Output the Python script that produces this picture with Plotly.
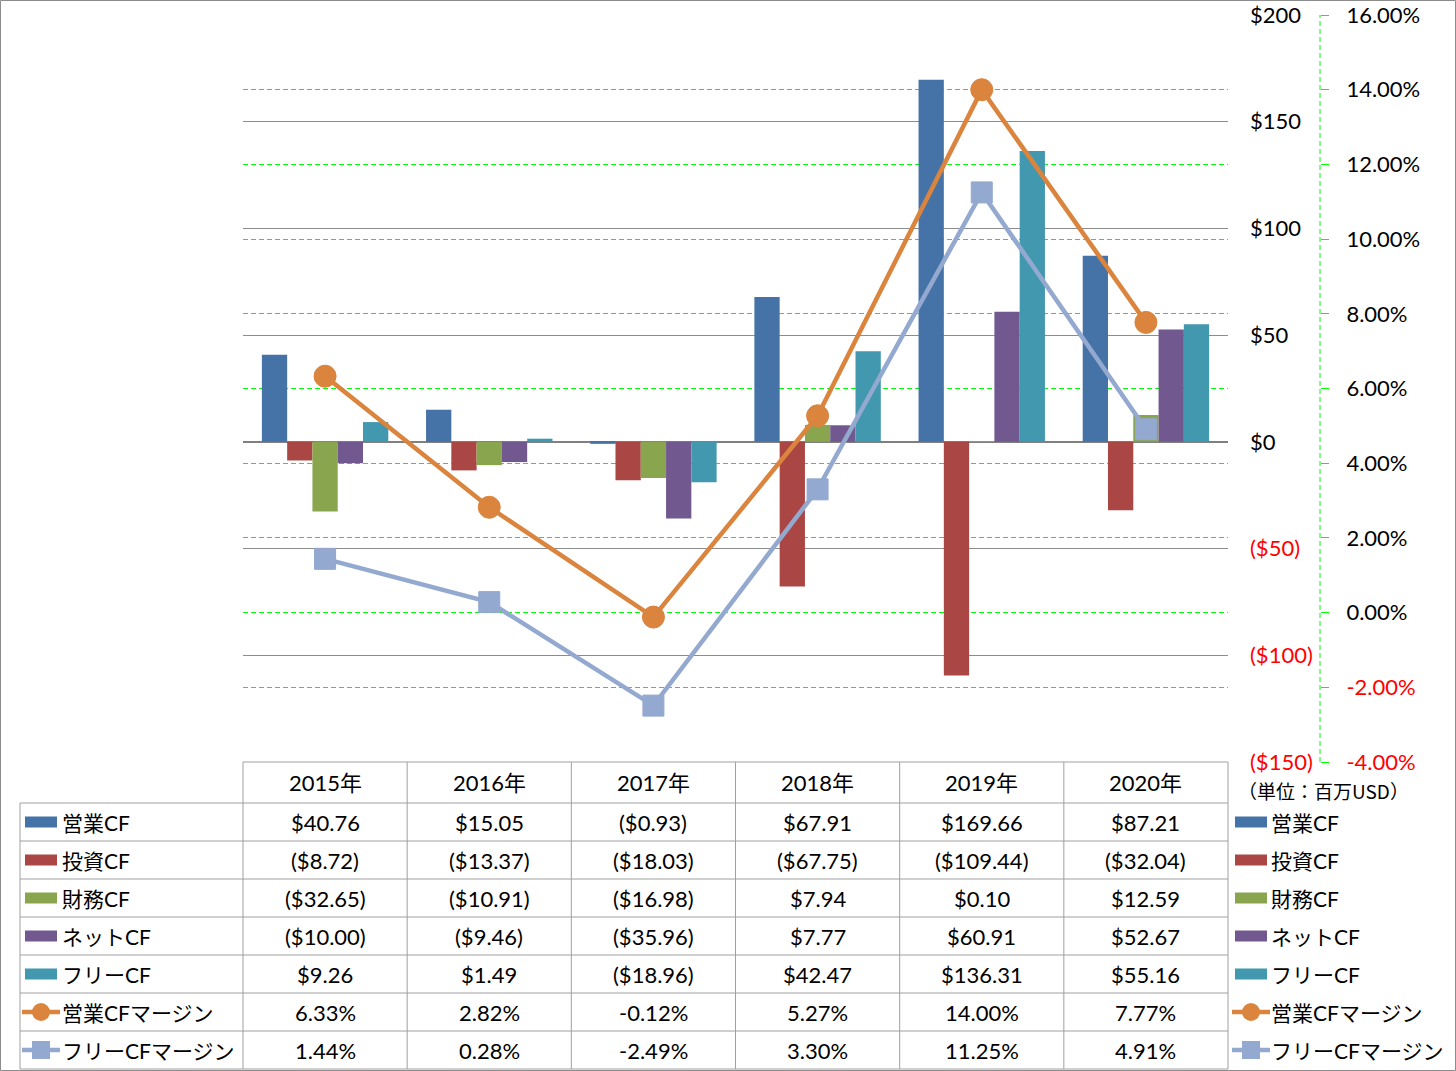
import plotly.graph_objects as go

# ---------------- data ----------------
years = ["2015年", "2016年", "2017年", "2018年", "2019年", "2020年"]
op_cf = [40.76, 15.05, -0.93, 67.91, 169.66, 87.21]
inv_cf = [-8.72, -13.37, -18.03, -67.75, -109.44, -32.04]
fin_cf = [-32.65, -10.91, -16.98, 7.94, 0.10, 12.59]
net_cf = [-10.00, -9.46, -35.96, 7.77, 60.91, 52.67]
free_cf = [9.26, 1.49, -18.96, 42.47, 136.31, 55.16]
op_margin = [6.33, 2.82, -0.12, 5.27, 14.00, 7.77]
free_margin = [1.44, 0.28, -2.49, 3.30, 11.25, 4.91]

bar_names = ["営業CF", "投資CF", "財務CF", "ネットCF", "フリーCF"]
line_names = ["営業CFマージン", "フリーCFマージン"]
usd_ticks = [-150, -100, -50, 0, 50, 100, 150, 200]
pct_ticks = [-4, -2, 0, 2, 4, 6, 8, 10, 12, 14, 16]
unit_label = "（単位：百万USD）"

# ---------------- styles ----------------
bar_colors = ["#4572A7", "#AA4643", "#89A54E", "#71588F", "#4198AF"]
line_colors = ["#DB843D", "#93A9CF"]
FONT = "Lato, 'Noto Sans CJK JP', sans-serif"
RED = "#FF0000"
GRID = "#8C8C8C"
GREEN = "#00FF00"
TBL = "#A0A0A0"

W, H = 1456, 1071
ML, MR, MT, MB = 243, 136, 15, 309
PLOT_R = 1228


def PX(px):
    return (px - ML) / (W - ML - MR)


def PY(py):
    return (H - MB - py) / (H - MT - MB)


def money(v):
    return f"(${abs(v):,.2f})" if v < 0 else f"${v:,.2f}"


def money_tick(v):
    return f"<span style='color:{RED}'>(${abs(v)})</span>" if v < 0 else f"${v}"


def pct_tick(v):
    s = f"{v:.2f}%"
    return f"<span style='color:{RED}'>{s}</span>" if v < 0 else s


fig = go.Figure()
bar_series = [op_cf, inv_cf, fin_cf, net_cf, free_cf]
for name, vals, col in zip(bar_names, bar_series, bar_colors):
    fig.add_trace(go.Bar(x=years, y=vals, name=name, marker=dict(color=col, line=dict(width=0)),
                         yaxis="y"))

line_series = [op_margin, free_margin]
symbols = ["circle", "square"]
msizes = [22, 21]
for name, vals, col, sym, ms in zip(line_names, line_series, line_colors, symbols, msizes):
    fig.add_trace(go.Scatter(x=years, y=vals, name=name, yaxis="y2", mode="lines+markers",
                             line=dict(color=col, width=4.5),
                             marker=dict(symbol=sym, size=ms, color=col,
                                         line=dict(color=col, width=1))))

shapes = []
annotations = []

# vertical dashed secondary axis line
shapes.append(dict(type="line", xref="paper", yref="paper", x0=1, x1=1, y0=0, y1=1,
                   line=dict(color=GREEN, width=1, dash="5px,3px")))

# ---------------- table ----------------
header_top, header_bot = 762, 803
row_h = 38
n_rows = 7
row_tops = [header_bot + i * row_h for i in range(n_rows + 1)]
table_bottom = row_tops[-1]
col_edges = [ML + i * (PLOT_R - ML) / 6 for i in range(7)]

# horizontal lines
shapes.append(dict(type="line", xref="paper", yref="paper", x0=PX(ML), x1=PX(PLOT_R),
                   y0=PY(header_top), y1=PY(header_top), line=dict(color=TBL, width=1)))
for yt in row_tops:
    shapes.append(dict(type="line", xref="paper", yref="paper", x0=PX(20), x1=PX(PLOT_R),
                       y0=PY(yt), y1=PY(yt), line=dict(color=TBL, width=1)))
# vertical lines
for xe in col_edges:
    shapes.append(dict(type="line", xref="paper", yref="paper", x0=PX(xe), x1=PX(xe),
                       y0=PY(header_top), y1=PY(table_bottom), line=dict(color=TBL, width=1)))
shapes.append(dict(type="line", xref="paper", yref="paper", x0=PX(20), x1=PX(20),
                   y0=PY(header_bot), y1=PY(table_bottom), line=dict(color=TBL, width=1)))

# header years
for yr in years:
    annotations.append(dict(x=yr, y=PY((header_top + header_bot) / 2), xref="x", yref="paper",
                            text=yr, showarrow=False, font=dict(size=22, family=FONT, color="black"),
                            xanchor="center", yanchor="middle"))

all_rows = [(n, v, "bar") for n, v in zip(bar_names, bar_series)] + \
           [(n, v, "line") for n, v in zip(line_names, line_series)]
all_cols = bar_colors + line_colors

for i, (name, vals, kind) in enumerate(all_rows):
    yc = row_tops[i] + row_h / 2
    for yr, v in zip(years, vals):
        txt = money(v) if kind == "bar" else f"{v:.2f}%"
        annotations.append(dict(x=yr, y=PY(yc), xref="x", yref="paper", text=txt, showarrow=False,
                                font=dict(size=22, family=FONT, color="black"),
                                xanchor="center", yanchor="middle"))
    col = all_cols[i]
    for (sx0, tx) in [(25, 60), (1235, 1269)]:
        if kind == "bar":
            shapes.append(dict(type="rect", xref="paper", yref="paper",
                               x0=PX(sx0), x1=PX(sx0 + 32), y0=PY(yc - 5.5), y1=PY(yc + 5.5),
                               fillcolor=col, line=dict(width=0)))
        else:
            shapes.append(dict(type="line", xref="paper", yref="paper",
                               x0=PX(sx0 - 3), x1=PX(sx0 + 35), y0=PY(yc), y1=PY(yc),
                               line=dict(color=col, width=4.5)))
            cx = sx0 + 16
            if i == 5:
                shapes.append(dict(type="circle", xref="paper", yref="paper",
                                   x0=PX(cx - 9), x1=PX(cx + 9), y0=PY(yc - 9), y1=PY(yc + 9),
                                   fillcolor=col, line=dict(width=0)))
            else:
                shapes.append(dict(type="rect", xref="paper", yref="paper",
                                   x0=PX(cx - 9), x1=PX(cx + 9), y0=PY(yc - 9), y1=PY(yc + 9),
                                   fillcolor=col, line=dict(width=0)))
        annotations.append(dict(x=PX(tx), y=PY(yc), xref="paper", yref="paper", text=name,
                                showarrow=False, font=dict(size=21, family=FONT, color="black"),
                                xanchor="left", yanchor="middle"))

# unit label
annotations.append(dict(x=PX(1323), y=PY(790), xref="paper", yref="paper", text=unit_label,
                        showarrow=False, font=dict(size=19, family="'Noto Sans CJK JP'", color="black"),
                        xanchor="center", yanchor="middle"))

# outer frame
shapes.append(dict(type="rect", xref="paper", yref="paper", x0=PX(0.5), x1=PX(W - 0.5),
                   y0=PY(0.5), y1=PY(H - 0.5), line=dict(color=GRID, width=1)))

fig.update_layout(
    width=W, height=H, template="none",
    margin=dict(l=ML, r=MR, t=MT, b=MB, autoexpand=False),
    paper_bgcolor="white", plot_bgcolor="white",
    showlegend=False, barmode="group", bargap=0.23, bargroupgap=0,
    font=dict(family=FONT, size=22, color="black"),
    xaxis=dict(domain=[0, (PLOT_R - ML) / (W - ML - MR)], type="category", range=[-0.5, 5.5],
               showticklabels=False, showgrid=False, zeroline=False, showline=False, ticks="",
               automargin=False),
    yaxis=dict(range=[-150, 200], side="right", tickvals=usd_ticks,
               ticktext=[money_tick(v) for v in usd_ticks],
               showgrid=True, gridcolor=GRID, gridwidth=1, zeroline=True, zerolinecolor="#808080",
               zerolinewidth=1.5, showline=False, ticks="", ticklabelstandoff=21,
               tickfont=dict(size=22, family=FONT, color="black"), automargin=False),
    yaxis2=dict(range=[-4, 16], overlaying="y", anchor="free", position=1, side="right",
                tickvals=pct_ticks, ticktext=[pct_tick(v) for v in pct_ticks],
                showgrid=True, gridcolor=GREEN, gridwidth=1.2, griddash="5px,3px", zeroline=False,
                showline=False, ticks="outside", ticklen=8, tickcolor=GREEN, tickwidth=1,
                ticklabelstandoff=13, tickfont=dict(size=22, family=FONT, color="black"),
                automargin=False),
    shapes=shapes, annotations=annotations,
)

fig.write_html("out.html")
